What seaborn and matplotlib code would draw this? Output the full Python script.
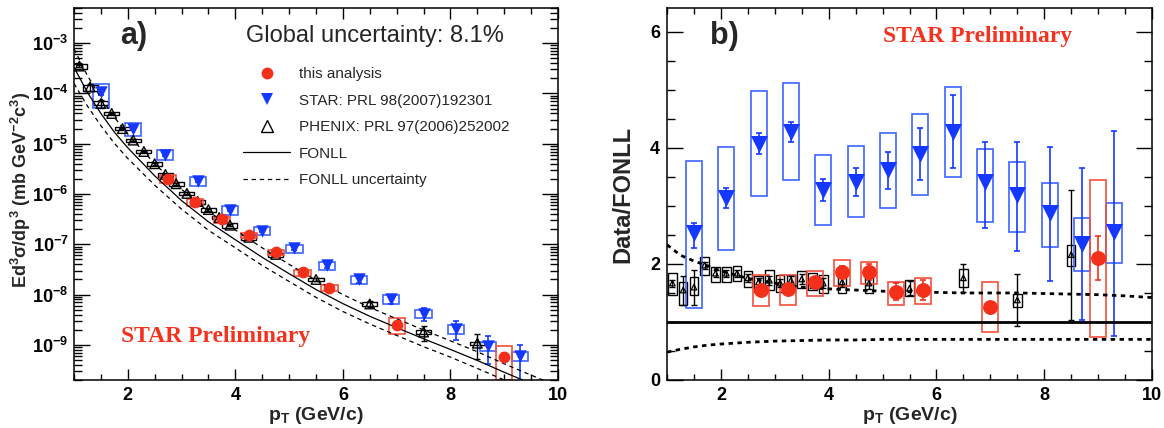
import numpy as np
import matplotlib
matplotlib.use("Agg")
import matplotlib.pyplot as plt
import seaborn as sns
from matplotlib.ticker import MultipleLocator, LogLocator, FixedLocator, FuncFormatter, NullFormatter
from matplotlib.lines import Line2D

# ---------------- data ----------------
# FONLL central curve and uncertainty band (absolute, left panel)
fonll_pt = [1.0, 1.25, 1.5, 1.75, 2.0, 2.5, 3.0, 3.5, 4.0, 4.5, 5.0, 5.5, 6.0, 6.5, 7.0, 7.5, 8.0, 8.5, 9.0, 9.5, 10.0]
fonll_c = [3.3e-4, 1.05e-4, 4.0e-5, 1.7e-5, 8.3e-6, 2.3e-6, 7.4e-7, 2.8e-7, 1.23e-7, 5.5e-8, 2.6e-8, 1.26e-8,
           6.6e-9, 3.7e-9, 2.2e-9, 1.32e-9, 8.1e-10, 4.9e-10, 2.85e-10, 1.7e-10, 1.05e-10]
fonll_hi = [7.7e-4, 2.26e-4, 8.2e-5, 3.35e-5, 1.56e-5, 4.0e-6, 1.24e-6, 4.5e-7, 1.93e-7, 8.5e-8, 4.0e-8, 1.92e-8,
            1.0e-8, 5.55e-9, 3.3e-9, 1.98e-9, 1.2e-9, 7.3e-10, 4.2e-10, 2.5e-10, 1.5e-10]
fonll_lo = [1.58e-4, 5.6e-5, 2.28e-5, 1.02e-5, 5.1e-6, 1.5e-6, 5.0e-7, 1.9e-7, 8.5e-8, 3.8e-8, 1.82e-8, 8.8e-9,
            4.6e-9, 2.6e-9, 1.54e-9, 9.2e-10, 5.7e-10, 3.4e-10, 2.0e-10, 1.2e-10, 7.4e-11]
# FONLL uncertainty band as ratio (right panel)
band_hi_ratio = [2.33, 2.15, 2.05, 1.97, 1.88, 1.75, 1.67, 1.60, 1.57, 1.55, 1.53, 1.52, 1.51, 1.50, 1.50, 1.50,
                 1.49, 1.48, 1.47, 1.45, 1.42]
band_lo_ratio = [0.48, 0.53, 0.57, 0.60, 0.62, 0.65, 0.67, 0.68, 0.69, 0.69, 0.70, 0.70, 0.70, 0.70, 0.70, 0.70,
                 0.70, 0.70, 0.70, 0.70, 0.70]

# this analysis (red)
red_pt = [2.75, 3.25, 3.75, 4.25, 4.75, 5.25, 5.75, 7.0, 9.0]
red_val = [2.0e-6, 6.9e-7, 3.16e-7, 1.5e-7, 6.9e-8, 2.75e-8, 1.38e-8, 2.5e-9, 5.8e-10]
red_ratio = [1.55, 1.57, 1.69, 1.86, 1.86, 1.52, 1.55, 1.26, 2.10]
red_stat = [0.07, 0.07, 0.08, 0.10, 0.14, 0.15, 0.18, 0.08, 0.38]
red_sys_lo = [1.28, 1.29, 1.45, 1.62, 1.65, 1.29, 1.31, 0.83, 0.74]
red_sys_hi = [1.81, 1.81, 1.88, 2.07, 2.03, 1.69, 1.76, 1.69, 3.45]

# STAR PRL 98 (blue)
star_pt = [1.5, 2.1, 2.7, 3.3, 3.9, 4.5, 5.1, 5.7, 6.3, 6.9, 7.5, 8.1, 8.7, 9.3]
star_val = [1.05e-4, 2.0e-5, 6.0e-6, 1.8e-6, 4.8e-7, 1.87e-7, 8.3e-8, 3.8e-8, 2.0e-8, 8.3e-9, 4.2e-9, 2.1e-9,
            9.6e-10, 5.9e-10]
star_ratio = [2.53, 3.13, 4.07, 4.28, 3.28, 3.41, 3.62, 3.90, 4.28, 3.42, 3.19, 2.88, 2.34, 2.55]
star_stat_lo = [2.28, 2.96, 3.90, 4.10, 3.09, 3.17, 3.29, 3.45, 3.65, 2.62, 2.22, 1.71, 1.03, 0.76]
star_stat_hi = [2.71, 3.31, 4.26, 4.45, 3.46, 3.65, 3.93, 4.34, 4.91, 4.10, 4.10, 4.02, 3.65, 4.29]
star_sys_lo = [1.24, 2.24, 3.17, 3.45, 2.67, 2.81, 2.97, 3.19, 3.50, 2.73, 2.55, 2.30, 1.87, 2.02]
star_sys_hi = [3.78, 4.02, 4.98, 5.12, 3.88, 4.03, 4.26, 4.58, 5.05, 3.98, 3.76, 3.40, 2.79, 3.05]

# PHENIX PRL 97 (black)
phx_pt = [1.1, 1.3, 1.5, 1.7, 1.9, 2.1, 2.3, 2.5, 2.7, 2.9, 3.1, 3.3, 3.5, 3.7, 3.9, 4.25, 4.75, 5.5, 6.5, 7.5, 8.5]
phx_val = [3.5e-4, 1.35e-4, 6.3e-5, 4.0e-5, 2.0e-5, 1.18e-5, 7.0e-6, 4.0e-6, 2.45e-6, 1.6e-6, 1.03e-6, 7.1e-7,
           4.9e-7, 3.4e-7, 2.4e-7, 1.38e-7, 6.3e-8, 2.0e-8, 6.5e-9, 1.8e-9, 1.08e-9]
phx_ratio = [1.67, 1.55, 1.60, 1.98, 1.84, 1.84, 1.84, 1.76, 1.69, 1.72, 1.67, 1.72, 1.74, 1.69, 1.67, 1.69, 1.67,
             1.58, 1.76, 1.38, 2.16]
phx_stat = [0.06, 0.25, 0.30, 0.06, 0.06, 0.06, 0.06, 0.07, 0.07, 0.08, 0.07, 0.07, 0.08, 0.08, 0.08, 0.09, 0.10,
            0.12, 0.24, 0.45, 1.12]
phx_sys_lo = [1.47, 1.29, 1.47, 1.81, 1.69, 1.69, 1.71, 1.60, 1.52, 1.55, 1.52, 1.55, 1.59, 1.55, 1.50, 1.50, 1.50,
              1.44, 1.60, 1.26, 1.97]
phx_sys_hi = [1.84, 1.69, 1.78, 2.12, 1.95, 1.95, 1.97, 1.88, 1.79, 1.90, 1.81, 1.81, 1.88, 1.84, 1.81, 1.84, 1.81,
              1.72, 1.91, 1.48, 2.33]

legend_labels = ["this analysis", "STAR: PRL 98(2007)192301", "PHENIX: PRL 97(2006)252002",
                 "FONLL", "FONLL uncertainty"]
left_y_decades = [-9, -8, -7, -6, -5, -4, -3]

# ---------------- style ----------------
RED = "#f5301a"
RED_BOX = "#f2503c"
BLUE = "#1438ff"
BLUE_BOX = "#3c64ff"
PRELIM = "#f5321e"

sns.set_theme(style="ticks")
plt.rcParams["font.family"] = ["Liberation Sans", "DejaVu Sans"]
plt.rcParams.update({
    "mathtext.fontset": "custom",
    "mathtext.rm": "Liberation Sans",
    "mathtext.bf": "Liberation Sans:bold",
    "mathtext.it": "Liberation Sans:italic",
    "font.weight": "bold",
    "axes.linewidth": 1.1,
    "axes.edgecolor": "black",
    "xtick.color": "black",
    "ytick.color": "black",
})

W, H = 1164, 428
fig = plt.figure(figsize=(W / 100, H / 100), dpi=100)
axL = fig.add_axes([74 / W, 1 - 380 / H, 484 / W, 372 / H])
axR = fig.add_axes([667 / W, 1 - 380 / H, 485 / W, 372 / H])

# ---------------- left panel ----------------
axL.set_yscale("log")


def rel(a, b):
    return np.asarray(a, float) / np.asarray(b, float)


def boxes(ax, x, lo, hi, half, color, lw=1.0, z=2):
    x = np.asarray(x, float)
    lo = np.asarray(lo, float)
    hi = np.asarray(hi, float)
    ax.bar(x, hi - lo, bottom=lo, width=2 * half, fill=False, edgecolor=color, linewidth=lw, zorder=z)


def ebars(ax, x, y, lo, hi, color, z=3, lw=1.0):
    y = np.asarray(y, float)
    ax.errorbar(x, y, yerr=[y - np.asarray(lo), np.asarray(hi) - y], fmt="none", ecolor=color,
                elinewidth=lw, capsize=2.5, capthick=lw, zorder=z)


# PHENIX (left)
pv = np.asarray(phx_val)
pr = np.asarray(phx_ratio)
ps = np.asarray(phx_stat)
boxes(axL, phx_pt, pv * rel(phx_sys_lo, pr), pv * rel(phx_sys_hi, pr), 0.14, "black", 1.0)
ebars(axL, phx_pt, pv, pv * (pr - ps) / pr, pv * (pr + ps) / pr, "black")
axL.scatter(phx_pt, pv, marker="^", s=48, facecolors="none", edgecolors="black", linewidths=1.0, zorder=6)

# STAR (left)
sv = np.asarray(star_val)
sr = np.asarray(star_ratio)
boxes(axL, star_pt, sv * rel(star_sys_lo, sr), sv * rel(star_sys_hi, sr), 0.15, BLUE_BOX, 1.2)
ebars(axL, star_pt, sv, sv * rel(star_stat_lo, sr), sv * rel(star_stat_hi, sr), BLUE, lw=1.2)
sns.scatterplot(x=star_pt, y=star_val, ax=axL, marker="v", s=80, color=BLUE, edgecolor=BLUE, linewidth=0,
                zorder=7, legend=False)

# this analysis (left)
rv = np.asarray(red_val)
rr = np.asarray(red_ratio)
rs = np.asarray(red_stat)
boxes(axL, red_pt, rv * rel(red_sys_lo, rr), rv * rel(red_sys_hi, rr), 0.15, RED_BOX, 1.2)
ebars(axL, red_pt, rv, rv * (rr - rs) / rr, rv * (rr + rs) / rr, RED, lw=1.2)
sns.scatterplot(x=red_pt, y=red_val, ax=axL, marker="o", s=72, color=RED, edgecolor=RED, linewidth=0,
                zorder=8, legend=False)

# FONLL curves (left)
sns.lineplot(x=fonll_pt, y=fonll_c, ax=axL, color="black", linewidth=0.9, zorder=4, legend=False)
sns.lineplot(x=fonll_pt, y=fonll_hi, ax=axL, color="black", linewidth=0.9, linestyle=(0, (3.5, 3)), zorder=4,
             legend=False)
sns.lineplot(x=fonll_pt, y=fonll_lo, ax=axL, color="black", linewidth=0.9, linestyle=(0, (3.5, 3)), zorder=4,
             legend=False)

axL.set_xlim(1, 10)
axL.set_ylim(2.0e-10, 5.0e-3)
axL.xaxis.set_major_locator(MultipleLocator(2))
axL.xaxis.set_minor_locator(MultipleLocator(0.5))
axL.yaxis.set_major_locator(FixedLocator([10.0 ** d for d in left_y_decades]))
axL.yaxis.set_minor_locator(LogLocator(base=10, subs=np.arange(2, 10), numticks=20))
axL.yaxis.set_minor_formatter(NullFormatter())
axL.yaxis.set_major_formatter(FuncFormatter(lambda v, p: r"$\mathbf{10^{%d}}$" % int(round(np.log10(v)))))
axL.tick_params(which="both", direction="in", top=True, right=True, width=1.0)
axL.tick_params(axis="x", which="major", length=8, pad=5, labelsize=13)
axL.tick_params(axis="x", which="minor", length=4.5)
axL.tick_params(axis="y", which="major", length=11.5, pad=4, labelsize=13)
axL.tick_params(axis="y", which="minor", length=5.5)

axL.set_xlabel(r"$\mathbf{p_{T}}$ (GeV/c)", fontsize=14, fontweight="bold", labelpad=1)
axL.set_ylabel(r"Ed$^{\mathbf{3}}$$\mathbf{\sigma}$/dp$^{\mathbf{3}}$ (mb GeV$^{\mathbf{-2}}$c$^{\mathbf{3}}$)",
               fontsize=13, fontweight="bold")
axL.yaxis.set_label_coords(-0.084, 0.51)

axL.text(0.124, 0.925, "a)", transform=axL.transAxes, fontsize=22, fontweight="bold", ha="center", va="center")
axL.text(0.622, 0.924, "Global uncertainty: 8.1%", transform=axL.transAxes, fontsize=17, fontweight="normal",
         ha="center", va="center")
axL.text(0.293, 0.118, "STAR Preliminary", transform=axL.transAxes, fontsize=17, fontweight="bold",
         family="Liberation Serif", color=PRELIM, ha="center", va="center")

handles = [
    Line2D([], [], linestyle="none", marker="o", markersize=8.5, color=RED, markeredgewidth=0),
    Line2D([], [], linestyle="none", marker="v", markersize=9, color=BLUE, markeredgewidth=0),
    Line2D([], [], linestyle="none", marker="^", markersize=8, markerfacecolor="none", markeredgecolor="black",
           markeredgewidth=1.0),
    Line2D([], [], color="black", linewidth=0.9),
    Line2D([], [], color="black", linewidth=0.9, linestyle=(0, (3.5, 3))),
]
axL.legend(handles, legend_labels, loc="upper left", bbox_to_anchor=(0.349, 0.841), frameon=False,
           borderpad=0, borderaxespad=0, handlelength=3.1, handletextpad=0.55, labelspacing=0.82,
           prop={"size": 11, "weight": "normal"})

# ---------------- right panel ----------------
# PHENIX (right)
boxes(axR, phx_pt, phx_sys_lo, phx_sys_hi, 0.08, "black", 1.0)
ebars(axR, phx_pt, phx_ratio, pr - ps, pr + ps, "black")
axR.scatter(phx_pt, phx_ratio, marker="^", s=16, facecolors="none", edgecolors="black", linewidths=0.9,
            zorder=6)

# STAR (right)
boxes(axR, star_pt, star_sys_lo, star_sys_hi, 0.15, BLUE_BOX, 1.2)
ebars(axR, star_pt, star_ratio, star_stat_lo, star_stat_hi, BLUE, lw=1.2)
sns.scatterplot(x=star_pt, y=star_ratio, ax=axR, marker="v", s=150, color=BLUE, edgecolor=BLUE, linewidth=0,
                zorder=7, legend=False)

# this analysis (right)
boxes(axR, red_pt, red_sys_lo, red_sys_hi, 0.15, RED_BOX, 1.2)
ebars(axR, red_pt, red_ratio, rr - rs, rr + rs, RED, lw=1.2)
sns.scatterplot(x=red_pt, y=red_ratio, ax=axR, marker="o", s=115, color=RED, edgecolor=RED, linewidth=0,
                zorder=8, legend=False)

# FONLL ratio lines
axR.axhline(1.0, color="black", linewidth=2.0, zorder=4)
sns.lineplot(x=fonll_pt, y=band_hi_ratio, ax=axR, color="black", linewidth=2.0, linestyle=(0, (1.6, 1.6)),
             zorder=4, legend=False)
sns.lineplot(x=fonll_pt, y=band_lo_ratio, ax=axR, color="black", linewidth=2.0, linestyle=(0, (1.6, 1.6)),
             zorder=4, legend=False)

axR.set_xlim(1, 10)
axR.set_ylim(0, 6.41)
axR.xaxis.set_major_locator(MultipleLocator(2))
axR.xaxis.set_minor_locator(MultipleLocator(0.5))
axR.yaxis.set_major_locator(MultipleLocator(2))
axR.yaxis.set_minor_locator(MultipleLocator(0.5))
axR.tick_params(which="both", direction="in", top=True, right=True, width=1.0)
axR.tick_params(axis="x", which="major", length=8, pad=5, labelsize=13)
axR.tick_params(axis="x", which="minor", length=4.5)
axR.tick_params(axis="y", which="major", length=11.5, pad=5, labelsize=13)
axR.tick_params(axis="y", which="minor", length=5.5)

axR.set_xlabel(r"$\mathbf{p_{T}}$ (GeV/c)", fontsize=14, fontweight="bold", labelpad=1)
axR.set_ylabel("Data/FONLL", fontsize=17, fontweight="bold")
axR.yaxis.set_label_coords(-0.068, 0.5)

axR.text(0.119, 0.925, "b)", transform=axR.transAxes, fontsize=22, fontweight="bold", ha="center", va="center")
axR.text(0.641, 0.924, "STAR Preliminary", transform=axR.transAxes, fontsize=17, fontweight="bold",
         family="Liberation Serif", color=PRELIM, ha="center", va="center")

fig.savefig("out.png", dpi=100)
